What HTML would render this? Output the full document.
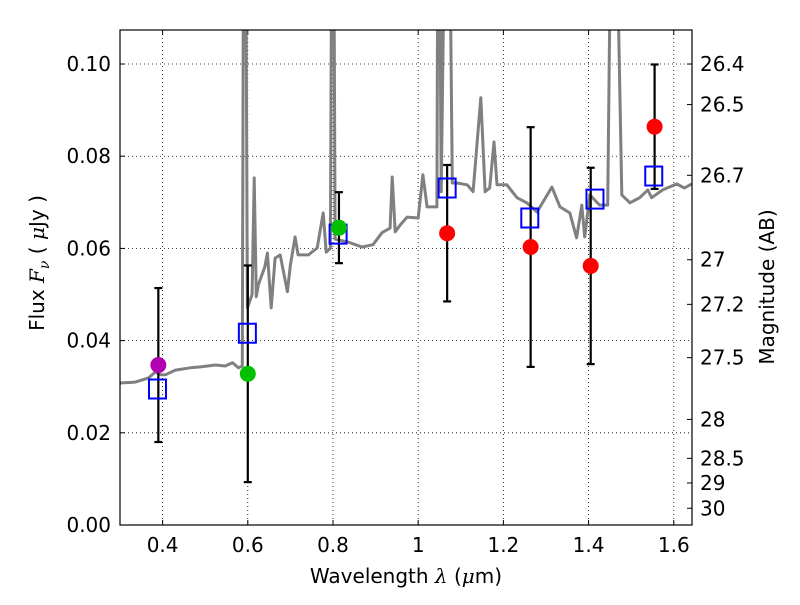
<!DOCTYPE html>
<html><head><meta charset="utf-8"><style>
body{margin:0;background:#fff}
svg text{font-family:"DejaVu Sans","Liberation Sans",sans-serif;fill:#000}
</style></head><body>
<svg id="c" width="800" height="600" xmlns="http://www.w3.org/2000/svg"></svg>
<script>
const specLam=[0.301,0.336,0.367,0.383,0.395,0.407,0.430,0.465,0.489,0.524,0.547,0.564,0.578,0.587,0.590,0.595,0.599,0.610,0.615,0.620,0.625,0.640,0.646,0.655,0.664,0.676,0.693,0.700,0.711,0.718,0.742,0.763,0.777,0.784,0.794,0.797,0.802,0.805,0.835,0.868,0.894,0.915,0.934,0.939,0.946,0.958,0.974,1.000,1.011,1.021,1.044,1.046,1.050,1.054,1.062,1.074,1.080,1.091,1.115,1.129,1.147,1.157,1.168,1.178,1.185,1.208,1.232,1.255,1.279,1.314,1.333,1.356,1.372,1.384,1.391,1.403,1.426,1.445,1.452,1.466,1.478,1.497,1.520,1.539,1.548,1.574,1.607,1.625,1.642];
const specFlux=[0.0308,0.0310,0.0319,0.0332,0.0326,0.0326,0.0336,0.0341,0.0343,0.0347,0.0345,0.0352,0.0341,0.0345,0.13,0.13,0.0471,0.0500,0.0753,0.0495,0.0521,0.0560,0.0590,0.0471,0.0579,0.0586,0.0506,0.0564,0.0625,0.0586,0.0586,0.0601,0.0677,0.0592,0.0600,0.13,0.13,0.0620,0.0614,0.0603,0.0608,0.0634,0.0644,0.0755,0.0636,0.0651,0.0668,0.0666,0.0760,0.0690,0.0690,0.13,0.13,0.0723,0.13,0.13,0.0742,0.0742,0.0738,0.0723,0.0927,0.0723,0.0731,0.0831,0.0738,0.0738,0.0710,0.0699,0.0679,0.0733,0.0690,0.0677,0.0623,0.0694,0.0625,0.0716,0.0694,0.0694,0.13,0.13,0.0716,0.0699,0.0710,0.0727,0.0710,0.0727,0.0740,0.0731,0.0740];
const modelLam=[0.388,0.599,0.812,1.068,1.262,1.415,1.553];
const modelFlux=[0.0295,0.0416,0.0631,0.0731,0.0666,0.0707,0.0757];
const obsLam=[0.390,0.600,0.814,1.068,1.264,1.405,1.555];
const obsFlux=[0.0347,0.0328,0.0645,0.0633,0.0603,0.0562,0.0864];
const obsErr=[0.0167,0.0235,0.0077,0.0148,0.0260,0.0213,0.0135];
const obsColor=['#b000b0','#00c000','#00c000','#ff0000','#ff0000','#ff0000','#ff0000'];
const xTicks=[0.4,0.6,0.8,1.0,1.2,1.4,1.6];
const xTickLabels=['0.4','0.6','0.8','1','1.2','1.4','1.6'];
const yTicks=[0,0.02,0.04,0.06,0.08,0.10];
const yTickLabels=['0.00','0.02','0.04','0.06','0.08','0.10'];
const magTicks=[26.4,26.5,26.7,27,27.2,27.5,28,28.5,29,30];

const L=120,R=692,T=30,B=525,X0=0.3,X1=1.6428,Y0=0,Y1=0.10738;
const sx=v=>L+(v-X0)/(X1-X0)*(R-L);
const sy=v=>B-(v-Y0)/(Y1-Y0)*(B-T);
const svg=document.getElementById('c');
const NS='http://www.w3.org/2000/svg';
function mk(t,a,p){const e=document.createElementNS(NS,t);for(const k in a)e.setAttribute(k,a[k]);(p||svg).appendChild(e);return e;}
const defs=mk('defs',{});const cp=mk('clipPath',{id:'clip'},defs);mk('rect',{x:L,y:T,width:R-L,height:B-T},cp);

xTicks.forEach((v,i)=>{const x=sx(v);
 const g=mk('line',{x1:x,x2:x,y1:T,y2:B,stroke:'#000','stroke-dasharray':'1,3','stroke-width':0.8});
 
 mk('line',{x1:x,x2:x,y1:B,y2:B-5,stroke:'#000'});mk('line',{x1:x,x2:x,y1:T,y2:T+5,stroke:'#000'});
 const t=mk('text',{x:x,y:B+27,'text-anchor':'middle','font-size':20});t.textContent=xTickLabels[i];
 });
yTicks.forEach((v,i)=>{const y=sy(v);
 const g=mk('line',{x1:L,x2:R,y1:y,y2:y,stroke:'#000','stroke-dasharray':'1,3','stroke-width':0.8});
 
 mk('line',{x1:L,x2:L+5,y1:y,y2:y,stroke:'#000'});
 const t=mk('text',{x:L-9,y:y+7,'text-anchor':'end','font-size':20});t.textContent=yTickLabels[i];
 });
magTicks.forEach(m=>{const f=Math.pow(10,(23.9-m)/2.5);const y=sy(f);
 mk('line',{x1:R,x2:R-5,y1:y,y2:y,stroke:'#000'});
 const t=mk('text',{x:R+8,y:y+7,'font-size':20});t.textContent=String(m);
 });

const gp=mk('g',{'clip-path':'url(#clip)'});
const pts=specLam.map((l,i)=>sx(l).toFixed(1)+','+sy(specFlux[i]).toFixed(1)).join(' ');
const sp=mk('polyline',{points:pts,fill:'none',stroke:'#808080','stroke-width':3,'stroke-linejoin':'round'},gp);


obsLam.forEach((l,i)=>{const x=sx(l),y1=sy(obsFlux[i]+obsErr[i]),y2=sy(obsFlux[i]-obsErr[i]);
 const e=mk('g',{stroke:'#000','stroke-width':2.2});
 
 mk('line',{x1:x,x2:x,y1:y1,y2:y2},e);mk('line',{x1:x-4,x2:x+4,y1:y1,y2:y1},e);mk('line',{x1:x-4,x2:x+4,y1:y2,y2:y2},e);});
modelLam.forEach((l,i)=>{const r=mk('rect',{x:sx(l)-8.5,y:sy(modelFlux[i])-9.5,width:17,height:19,fill:'none',stroke:'#0000ff','stroke-width':2});
 });
obsLam.forEach((l,i)=>{const c=mk('circle',{cx:sx(l),cy:sy(obsFlux[i]),r:8,fill:obsColor[i]});
 });

const fr=mk('rect',{x:L,y:T,width:R-L,height:B-T,fill:'none',stroke:'#000','stroke-width':1.2});

const xl=mk('text',{x:406,y:583,'text-anchor':'middle','font-size':20});xl.innerHTML='Wavelength  <tspan font-style="italic" font-family="DejaVu Serif">λ</tspan> (<tspan font-style="italic" font-family="DejaVu Serif">μ</tspan>m)';

const yl=mk('text',{x:0,y:0,'text-anchor':'middle','font-size':20,transform:'translate(44,263) rotate(-90)'});yl.innerHTML='Flux  <tspan font-style="italic" font-family="DejaVu Serif">F</tspan><tspan font-style="italic" font-family="DejaVu Serif" font-size="14" dy="5">ν</tspan><tspan dy="-5">  ( </tspan><tspan font-style="italic" font-family="DejaVu Serif">μ</tspan>Jy )';

const ml=mk('text',{x:0,y:0,'text-anchor':'middle','font-size':20,transform:'translate(774,287) rotate(-90)'});ml.textContent='Magnitude (AB)';

</script>
</body></html>
